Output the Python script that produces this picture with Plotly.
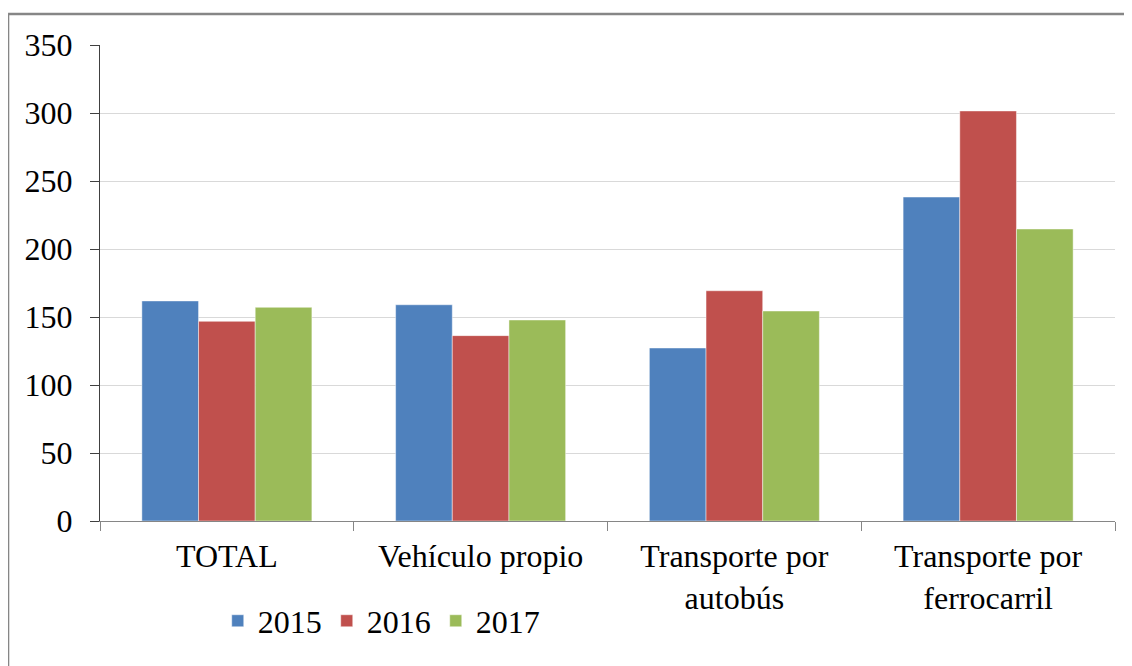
import plotly.graph_objects as go

categories = ["TOTAL", "Vehículo propio", "Transporte por<br>autobús", "Transporte por<br>ferrocarril"]
years = ["2015", "2016", "2017"]
values_2015 = [161.8, 159.0, 127.2, 238.2]
values_2016 = [146.8, 136.3, 169.3, 301.5]
values_2017 = [157.1, 147.8, 154.4, 214.7]
colors = ["#4F81BD", "#C0504D", "#9BBB59"]
y_ticks = [0, 50, 100, 150, 200, 250, 300, 350]

series = [values_2015, values_2016, values_2017]

FF = "Liberation Serif, Times New Roman, serif"
FS = 32

fig = go.Figure()
for name, vals, col in zip(years, series, colors):
    fig.add_trace(go.Bar(
        x=categories, y=vals, name=name,
        marker=dict(color=col, line=dict(color="rgba(255,255,255,0.45)", width=1)),
    ))

fig.update_layout(
    width=1124, height=658,
    margin=dict(l=92, r=17, t=37, b=145),
    paper_bgcolor="white", plot_bgcolor="white",
    barmode="group", bargap=0.33, bargroupgap=0,
    font=dict(family=FF, size=FS, color="black"),
    legend=dict(orientation="h", x=0.116, xanchor="left", y=-0.21, yanchor="middle",
                font=dict(family=FF, size=FS, color="black"), itemwidth=30,
                traceorder="normal"),
    showlegend=True,
)
fig.update_xaxes(
    showline=True, linecolor="#868686", linewidth=1,
    ticks="outside", tickson="boundaries", ticklen=9, tickcolor="#868686",
    tickfont=dict(family=FF, size=FS, color="black"), showgrid=False,
    ticklabelstandoff=7,
)
fig.update_yaxes(
    range=[0, 350], tickvals=y_ticks,
    showline=True, linecolor="#404040", linewidth=1,
    ticks="outside", ticklen=9, tickcolor="#404040",
    showgrid=True, gridcolor="#D9D9D9", gridwidth=1,
    tickfont=dict(family=FF, size=FS, color="black"), ticklabelstandoff=11,
    zeroline=False,
)
# outer chart frame (only top and left edges are visible in the reference)
fig.add_shape(type="line", xref="paper", yref="paper",
              x0=-0.0906, x1=1.3, y0=1.065, y1=1.065,
              line=dict(color="#868686", width=2.5), layer="below")
fig.add_shape(type="line", xref="paper", yref="paper",
              x0=-0.0906, x1=-0.0906, y0=-0.6, y1=1.065,
              line=dict(color="#868686", width=2.5), layer="below")

fig.write_html("out.html")
